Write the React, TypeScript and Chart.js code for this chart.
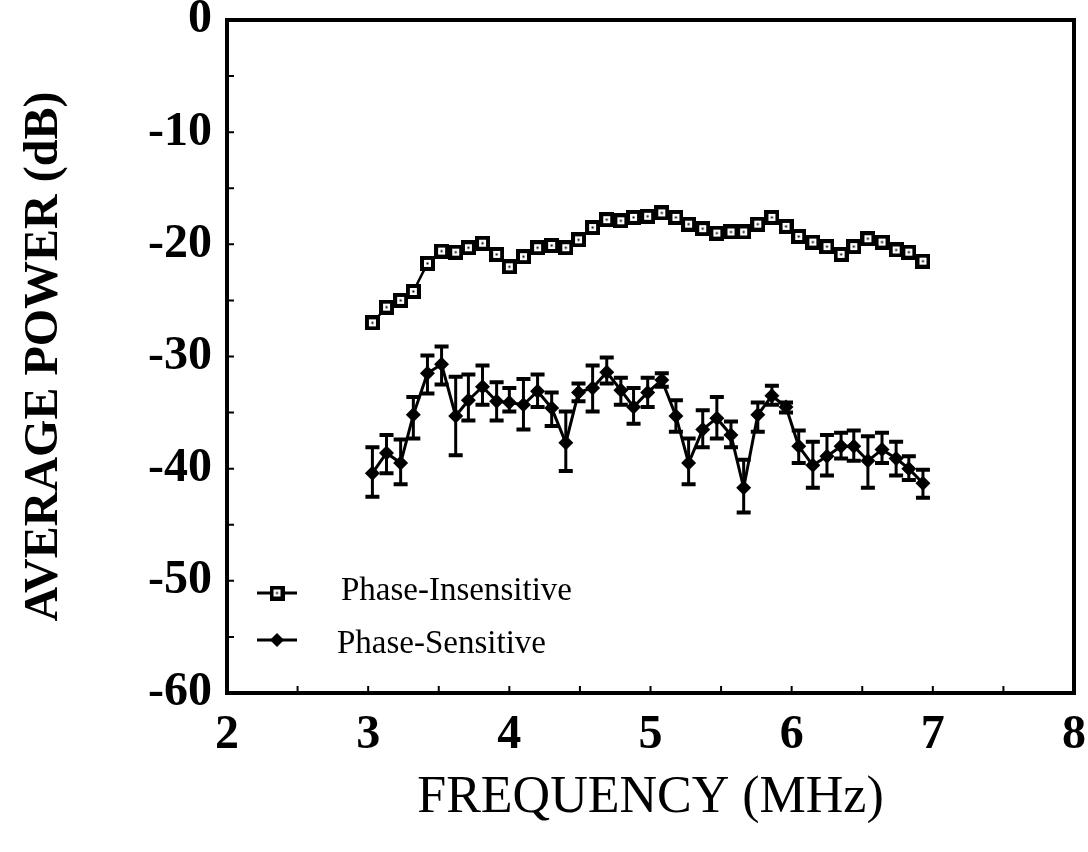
import React, { useEffect, useRef } from "react";
import { Chart, registerables } from "chart.js";

Chart.register(...registerables);

// Frequency grid (MHz)
const freq = [
  3.03, 3.13, 3.23, 3.32, 3.42, 3.52, 3.62, 3.71, 3.81, 3.91, 4.0, 4.1, 4.2, 4.3,
  4.4, 4.49, 4.59, 4.69, 4.79, 4.88, 4.98, 5.08, 5.18, 5.27, 5.37, 5.47, 5.57,
  5.66, 5.76, 5.86, 5.96, 6.05, 6.15, 6.25, 6.35, 6.44, 6.54, 6.64, 6.74, 6.83,
  6.93,
];

// Phase-Insensitive average power (dB)
const insensitive = [
  -27.0, -25.6, -25.0, -24.2, -21.7, -20.6, -20.7, -20.3, -19.9, -20.9, -22.0,
  -21.1, -20.3, -20.1, -20.3, -19.6, -18.5, -17.8, -17.9, -17.6, -17.5, -17.2,
  -17.6, -18.2, -18.6, -19.0, -18.9, -18.9, -18.2, -17.6, -18.4, -19.3, -19.8,
  -20.2, -20.9, -20.2, -19.5, -19.8, -20.5, -20.7, -21.5,
];

// Phase-Sensitive average power (dB)
const sensitive = [
  -40.4, -38.6, -39.5, -35.2, -31.5, -30.7, -35.3, -33.9, -32.7, -34.0, -34.1,
  -34.3, -33.1, -34.6, -37.7, -33.2, -32.8, -31.4, -33.0, -34.5, -33.2, -32.1,
  -35.3, -39.5, -36.5, -35.5, -37.0, -41.7, -35.2, -33.5, -34.5, -38.0, -39.7,
  -38.9, -38.0, -38.0, -39.3, -38.3, -39.1, -40.0, -41.3,
];

// Error bar ends for Phase-Sensitive (dB)
const sensitiveHigh = [
  -38.1, -37.0, -37.4, -33.6, -29.9, -29.1, -31.8, -31.6, -30.8, -32.3, -32.8,
  -32.0, -31.6, -33.2, -34.9, -32.4, -30.8, -30.1, -31.9, -32.8, -31.9, -31.5,
  -33.9, -37.3, -34.8, -33.6, -35.8, -39.2, -34.1, -32.6, -34.1, -36.6, -37.6,
  -37.0, -36.8, -36.6, -37.1, -36.8, -37.6, -38.9, -40.1,
];
const sensitiveLow = [
  -42.5, -40.4, -41.4, -37.3, -33.3, -32.5, -38.8, -35.7, -34.3, -35.7, -34.9,
  -36.5, -34.5, -36.2, -40.2, -34.0, -34.9, -32.4, -34.3, -36.0, -34.5, -32.7,
  -36.7, -41.4, -38.1, -37.3, -38.1, -43.9, -36.7, -34.3, -35.0, -39.5, -41.7,
  -40.6, -39.1, -39.3, -41.7, -39.5, -40.6, -41.0, -42.6,
];

const seriesLabels = ["Phase-Insensitive", "Phase-Sensitive"];
const xTitle = "FREQUENCY (MHz)";
const yTitle = "AVERAGE POWER (dB)";
const xMin = 2, xMax = 8, xMinorStep = 0.5;
const yMin = -60, yMax = 0, yMinorStep = 5;

const SERIF = "'Liberation Serif', 'Times New Roman', serif";

function makeSquareMarker(): HTMLCanvasElement {
  const c = document.createElement("canvas");
  c.width = 15;
  c.height = 15;
  const g = c.getContext("2d")!;
  g.fillStyle = "#000";
  g.fillRect(0, 0, 15, 15);
  g.fillStyle = "#fff";
  g.fillRect(4, 4, 7, 7);
  g.fillStyle = "#000";
  g.fillRect(6.5, 6.5, 2, 2);
  return c;
}

export default function App() {
  const ref = useRef<HTMLCanvasElement | null>(null);

  useEffect(() => {
    const canvas = ref.current;
    if (!canvas) return;
    const square = makeSquareMarker();

    const decor = {
      id: "decor",
      beforeDatasetsDraw(chart: any) {
        const { ctx, scales } = chart;
        const xs = scales.x, ys = scales.y;
        ctx.save();
        ctx.strokeStyle = "#000";
        for (let i = 0; i < freq.length; i++) {
          const px = xs.getPixelForValue(freq[i]);
          const top = ys.getPixelForValue(sensitiveHigh[i]);
          const bot = ys.getPixelForValue(sensitiveLow[i]);
          ctx.lineWidth = 3;
          ctx.beginPath();
          ctx.moveTo(px, top);
          ctx.lineTo(px, bot);
          ctx.stroke();
          ctx.lineWidth = 4;
          ctx.beginPath();
          ctx.moveTo(px - 7, top);
          ctx.lineTo(px + 7, top);
          ctx.moveTo(px - 7, bot);
          ctx.lineTo(px + 7, bot);
          ctx.stroke();
        }
        ctx.restore();
      },
      afterDraw(chart: any) {
        const { ctx, chartArea, scales } = chart;
        const xs = scales.x, ys = scales.y;
        const { left, right, top, bottom } = chartArea;
        ctx.save();
        ctx.strokeStyle = "#000";
        ctx.lineWidth = 4;
        ctx.strokeRect(left, top, right - left, bottom - top);
        ctx.lineWidth = 2;
        ctx.beginPath();
        for (let v = xMin + xMinorStep; v < xMax; v += xMinorStep) {
          const px = xs.getPixelForValue(v);
          ctx.moveTo(px, bottom);
          ctx.lineTo(px, bottom - 7);
        }
        for (let v = yMin + yMinorStep; v < yMax; v += yMinorStep) {
          const py = ys.getPixelForValue(v);
          ctx.moveTo(left, py);
          ctx.lineTo(left + 7, py);
        }
        ctx.stroke();

        // legend
        const lx0 = 257, lx1 = 297, lm = 277;
        const ly = [593, 640];
        ctx.lineWidth = 3;
        ctx.beginPath();
        ctx.moveTo(lx0, ly[0]);
        ctx.lineTo(lx1, ly[0]);
        ctx.moveTo(lx0, ly[1]);
        ctx.lineTo(lx1, ly[1]);
        ctx.stroke();
        ctx.drawImage(square, lm - 7.5, ly[0] - 7.5);
        ctx.fillStyle = "#000";
        ctx.beginPath();
        ctx.moveTo(lm, ly[1] - 7);
        ctx.lineTo(lm + 7, ly[1]);
        ctx.lineTo(lm, ly[1] + 7);
        ctx.lineTo(lm - 7, ly[1]);
        ctx.closePath();
        ctx.fill();
        ctx.font = `33px ${SERIF}`;
        ctx.textBaseline = "middle";
        ctx.textAlign = "left";
        ctx.fillText(seriesLabels[0], 341, ly[0] - 2);
        ctx.fillText(seriesLabels[1], 337, ly[1] + 4);
        ctx.restore();
      },
    };

    const chart = new Chart(canvas, {
      type: "line",
      data: {
        datasets: [
          {
            label: seriesLabels[0],
            data: freq.map((x, i) => ({ x, y: insensitive[i] })),
            borderColor: "#000",
            borderWidth: 2.5,
            pointStyle: square as any,
            pointRadius: 8,
            tension: 0,
          },
          {
            label: seriesLabels[1],
            data: freq.map((x, i) => ({ x, y: sensitive[i] })),
            borderColor: "#000",
            backgroundColor: "#000",
            borderWidth: 3,
            pointStyle: "rectRot",
            pointRadius: 7.5,
            pointBorderWidth: 0,
            pointBackgroundColor: "#000",
            tension: 0,
          },
        ],
      },
      options: {
        responsive: false,
        animation: false,
        devicePixelRatio: 1,
        layout: { padding: { left: 0, right: 14, top: 20, bottom: 0 } },
        plugins: { legend: { display: false }, tooltip: { enabled: false } },
        scales: {
          x: {
            type: "linear",
            min: xMin,
            max: xMax,
            grid: { display: false, drawTicks: false },
            border: { display: false },
            ticks: {
              stepSize: 1,
              autoSkip: false,
              maxRotation: 0,
              padding: 14,
              color: "#000",
              font: { family: SERIF, size: 48, weight: "bold" },
              callback: (v: any) => String(v),
            },
            title: {
              display: true,
              text: xTitle,
              color: "#000",
              font: { family: SERIF, size: 52, weight: "normal" },
              padding: { top: 0, bottom: 22 },
            },
            afterFit: (s: any) => {
              s.height = 159;
              s.paddingLeft = 0;
              s.paddingRight = 0;
            },
          },
          y: {
            type: "linear",
            min: yMin,
            max: yMax,
            grid: { display: false, drawTicks: false },
            border: { display: false },
            ticks: {
              stepSize: 10,
              autoSkip: false,
              padding: 15,
              color: "#000",
              font: { family: SERIF, size: 48, weight: "bold" },
              callback: (v: any) => String(v),
            },
            title: {
              display: true,
              text: yTitle,
              color: "#000",
              font: { family: SERIF, size: 48, weight: "bold" },
              padding: { top: 16, bottom: 0 },
            },
            afterFit: (s: any) => {
              s.width = 227;
              s.paddingTop = 0;
              s.paddingBottom = 0;
            },
          },
        },
      },
      plugins: [decor],
    });

    return () => chart.destroy();
  }, []);

  return (
    <div
      style={{
        position: "fixed",
        left: 0,
        top: 0,
        width: 1088,
        height: 852,
        background: "#fff",
      }}
    >
      <canvas ref={ref} width={1088} height={852} />
    </div>
  );
}
